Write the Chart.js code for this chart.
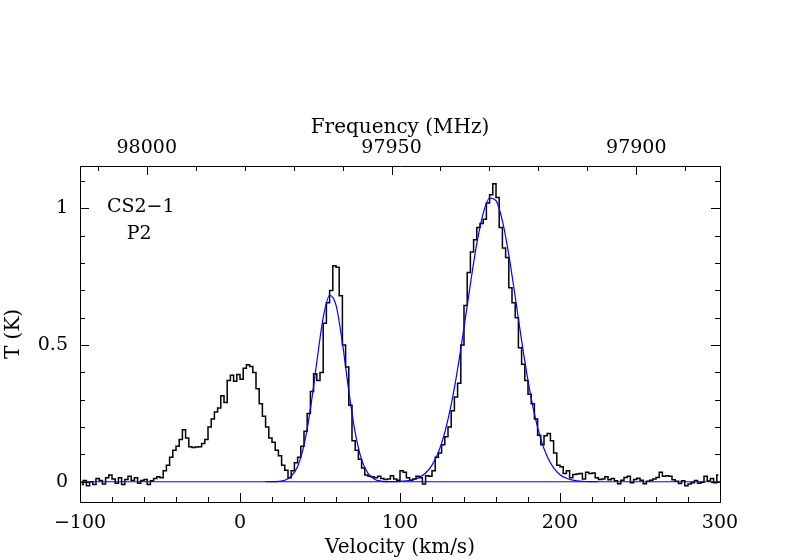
<!DOCTYPE html>
<html>
<head>
<meta charset="utf-8">
<script src="https://cdn.jsdelivr.net/npm/chart.js@4.4.1/dist/chart.umd.min.js"></script>
<style>
  html, body { margin: 0; padding: 0; background: #fff; }
  canvas { display: block; }
</style>
</head>
<body>
<canvas id="spectrum" width="800" height="560"></canvas>
<script>
// spectrum channels (km/s), 2 km/s wide, first channel centre at -99
const chanStart = -99;
const chanWidth = 2;
const tempK = [
    -0.01, 0.005, -0.015, 0.0, -0.01, 0.012, 0.005, -0.008, 0.015, 0.025,
    0.01, -0.005, 0.015, -0.01, 0.008, 0.02, 0.005, 0.015, -0.005, 0.005,
    0.008, -0.01, 0.004, 0.012, 0.018, 0.015, 0.04, 0.06, 0.09, 0.115,
    0.13, 0.155, 0.19, 0.16, 0.128, 0.125, 0.127, 0.128, 0.14, 0.155,
    0.2, 0.23, 0.255, 0.27, 0.315, 0.29, 0.37, 0.39, 0.368, 0.392,
    0.375, 0.415, 0.428, 0.422, 0.4, 0.34, 0.285, 0.24, 0.2, 0.16,
    0.145, 0.115, 0.095, 0.06, 0.042, 0.015, 0.04, 0.07, 0.09, 0.13,
    0.185, 0.25, 0.33, 0.395, 0.37, 0.4, 0.58, 0.655, 0.7, 0.79,
    0.785, 0.68, 0.5, 0.42, 0.28, 0.15, 0.115, 0.082, 0.05, 0.025,
    0.02, 0.018, 0.015, 0.02, 0.012, 0.008, 0.01, 0.022, 0.01, 0.006,
    0.04, 0.035, 0.015, 0.006, 0.01, 0.02, 0.015, -0.008, 0.022, 0.02,
    0.04, 0.09, 0.105, 0.135, 0.165, 0.2, 0.26, 0.31, 0.36, 0.5,
    0.645, 0.765, 0.84, 0.885, 0.93, 0.945, 0.96, 1.02, 1.05, 1.09,
    1.04, 0.93, 0.855, 0.82, 0.71, 0.655, 0.6, 0.49, 0.43, 0.37,
    0.32, 0.285, 0.23, 0.17, 0.135, 0.168, 0.177, 0.15, 0.105, 0.06,
    0.055, 0.03, 0.04, 0.015, 0.027, 0.028, 0.03, 0.01, 0.035, 0.03,
    0.032, 0.015, 0.008, 0.01, 0.018, 0.007, 0.012, 0.004, -0.007, 0.006,
    0.016, 0.02, -0.004, 0.008, 0.013, 0.006, -0.007, 0.002, 0.006, 0.01,
    0.016, 0.035, 0.02, 0.022, 0.02, 0.007, 0.002, -0.006, 0.004, -0.015,
    -0.008, -0.004, 0.005, -0.005, -0.002, 0.02, 0.003, 0.012, -0.004, 0.025
];
const velocity = tempK.map((t, i) => chanStart + i * chanWidth);

// gaussian fit (blue)
const fitVel = [16, 20, 24, 28, 32, 36, 40, 44, 48, 52, 56, 60, 64, 68, 72, 76, 80, 84, 88, 92,
    96, 100, 104, 108, 112, 116, 120, 124, 128, 132, 136, 140, 144, 148, 152, 156, 160, 164,
    168, 172, 176, 180, 184, 188, 192, 196, 200, 204, 208, 212, 216, 220, 224];
const fitTemp = [0, 0.0003, 0.0014, 0.0057, 0.0196, 0.056, 0.134, 0.266, 0.438, 0.6, 0.682, 0.646,
    0.508, 0.332, 0.18, 0.081, 0.031, 0.0095, 0.0025, 0.0005,
    0.0005, 0.0013, 0.0032, 0.0074, 0.016, 0.032, 0.061, 0.108, 0.181, 0.282, 0.412, 0.564,
    0.724, 0.871, 0.982, 1.038, 1.028, 0.954, 0.83, 0.677, 0.516, 0.37, 0.248, 0.156, 0.092,
    0.051, 0.026, 0.0127, 0.0058, 0.0025, 0.001, 0.0004, 0];

const baseVel = [-100, 300];
const baseTemp = [0, 0];

// axes
const xTickValues = [-100, 0, 100, 200, 300];
const xTickLabels = ['−100', '0', '100', '200', '300'];
const xMinor = [-80, -60, -40, -20, 20, 40, 60, 80, 120, 140, 160, 180, 220, 240, 260, 280];
const yTickValues = [0, 0.5, 1];
const yTickLabels = ['0', '0.5', '1'];
const yMinor = [0.1, 0.2, 0.3, 0.4, 0.6, 0.7, 0.8, 0.9, 1.1];
const freqTicks = [98000, 97950, 97900];
const freqMinor = [98010, 97990, 97980, 97970, 97960, 97940, 97930, 97920, 97910, 97890];
const restFreq = 97980.953; // CS 2-1, MHz
const lightSpeed = 299792.458;

const noteText = ['CS2−1', 'P2'];
const noteVel = [-62, -63];
const noteTemp = [1.005, 0.905];

function freqToVel(f) {
    return lightSpeed * (1 - f / restFreq);
}

const txtFont = { family: 'DejaVu Serif', size: 19 };
const titleFont = { family: 'DejaVu Serif', size: 20 };

// ticks pointing into the frame, like the original plot
const innerTicks = {
    id: 'innerTicks',
    afterDraw(chart) {
        const { ctx, chartArea: a, scales } = chart;
        ctx.save();
        ctx.strokeStyle = '#000';
        ctx.lineWidth = 1;
        ctx.beginPath();
        const vTick = (v, len, top) => {
            const px = Math.round(scales.x.getPixelForValue(v)) + 0.5;
            if (top) { ctx.moveTo(px, a.top); ctx.lineTo(px, a.top + len); }
            else { ctx.moveTo(px, a.bottom); ctx.lineTo(px, a.bottom - len); }
        };
        xTickValues.forEach(v => vTick(v, 9, false));
        xMinor.forEach(v => vTick(v, 5, false));
        freqTicks.forEach(f => vTick(freqToVel(f), 9, true));
        freqMinor.forEach(f => vTick(freqToVel(f), 5, true));
        const hTick = (t, len) => {
            const py = Math.round(scales.y.getPixelForValue(t)) + 0.5;
            ctx.moveTo(a.left, py); ctx.lineTo(a.left + len, py);
            ctx.moveTo(a.right, py); ctx.lineTo(a.right - len, py);
        };
        yTickValues.forEach(t => hTick(t, 9));
        yMinor.forEach(t => hTick(t, 5));
        ctx.stroke();

        ctx.fillStyle = '#000';
        ctx.font = '19px "DejaVu Serif"';
        ctx.textAlign = 'center';
        ctx.textBaseline = 'middle';
        noteText.forEach((s, i) => {
            ctx.fillText(s, scales.x.getPixelForValue(noteVel[i]), scales.y.getPixelForValue(noteTemp[i]));
        });
        ctx.restore();
    }
};

const yMin = -0.074, yMax = 1.155;

new Chart(document.getElementById('spectrum'), {
    type: 'line',
    data: {
        datasets: [{
            label: 'fit',
            data: fitVel.map((v, i) => ({ x: v, y: fitTemp[i] })),
            borderColor: '#0000ff',
            borderWidth: 1.2,
            pointRadius: 0,
            cubicInterpolationMode: 'monotone',
            order: 0
        }, {
            label: 'baseline',
            data: baseVel.map((v, i) => ({ x: v, y: baseTemp[i] })),
            borderColor: '#0000ff',
            borderWidth: 1.2,
            pointRadius: 0,
            order: 1
        }, {
            label: 'CS2-1',
            data: velocity.map((v, i) => ({ x: v, y: tempK[i] })),
            borderColor: '#000',
            borderWidth: 1.5,
            pointRadius: 0,
            stepped: 'middle',
            order: 2
        }]
    },
    options: {
        responsive: false,
        animation: false,
        devicePixelRatio: 1,
        events: [],
        layout: { padding: 0 },
        plugins: { legend: { display: false }, tooltip: { enabled: false } },
        scales: {
            x: {
                type: 'linear', position: 'bottom', min: -100, max: 300,
                afterBuildTicks: s => { s.ticks = xTickValues.map(v => ({ value: v })); },
                afterFit: s => { s.height = 58; },
                ticks: {
                    font: txtFont, color: '#000', padding: 10, maxRotation: 0, autoSkip: false,
                    callback: (v, i) => xTickLabels[i]
                },
                grid: { display: false, drawTicks: false },
                border: { display: true, color: '#000', width: 1 },
                title: { display: true, text: 'Velocity (km/s)', font: titleFont, color: '#000', padding: { top: 0, bottom: 0 } }
            },
            x2: {
                type: 'linear', position: 'top', min: -100, max: 300,
                afterBuildTicks: s => { s.ticks = freqTicks.map(f => ({ value: freqToVel(f) })); },
                afterFit: s => { s.height = 166; },
                ticks: {
                    font: txtFont, color: '#000', padding: 7, maxRotation: 0, autoSkip: false,
                    callback: (v, i) => String(freqTicks[i])
                },
                grid: { display: false, drawTicks: false },
                border: { display: true, color: '#000', width: 1 },
                title: { display: true, text: 'Frequency (MHz)', font: titleFont, color: '#000', padding: { top: 116, bottom: 0 } }
            },
            y: {
                type: 'linear', position: 'left', min: yMin, max: yMax,
                afterBuildTicks: s => { s.ticks = yTickValues.map(v => ({ value: v })); },
                afterFit: s => { s.width = 80; },
                ticks: {
                    font: txtFont, color: '#000', padding: 12, autoSkip: false,
                    callback: (v, i) => yTickLabels[i]
                },
                grid: { display: false, drawTicks: false },
                border: { display: true, color: '#000', width: 1 },
                title: { display: true, text: 'T (K)', font: titleFont, color: '#000', padding: { top: 2, bottom: 0 } }
            },
            y2: {
                type: 'linear', position: 'right', min: yMin, max: yMax,
                afterFit: s => { s.width = 80; },
                ticks: { display: false },
                grid: { display: false, drawTicks: false },
                border: { display: true, color: '#000', width: 1 }
            }
        }
    },
    plugins: [innerTicks]
});
</script>
</body>
</html>
